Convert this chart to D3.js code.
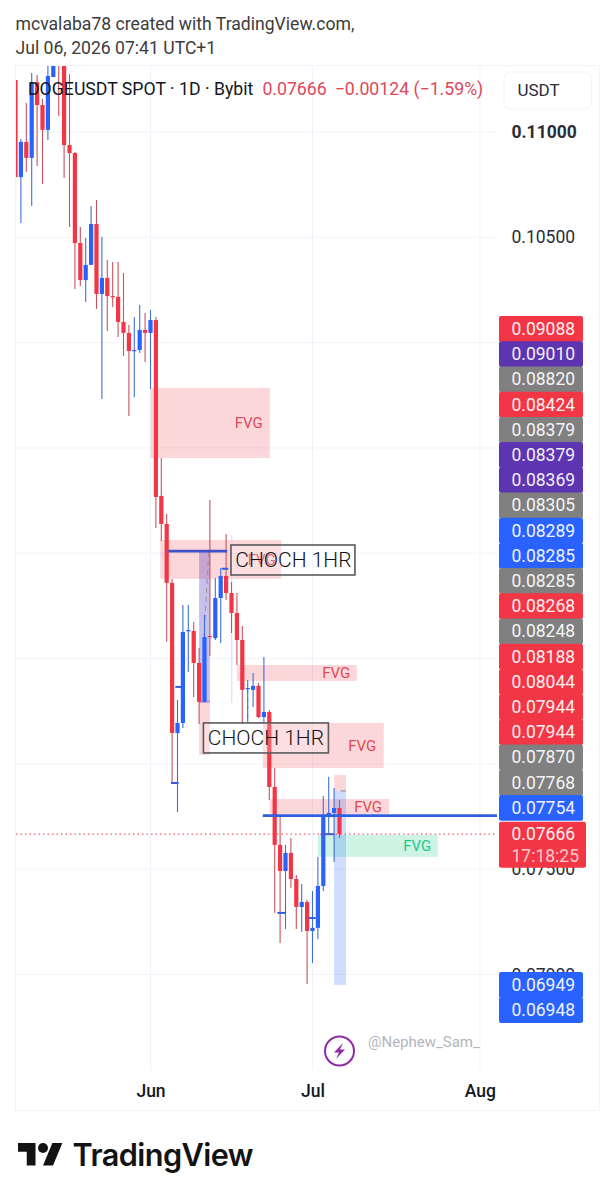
<!DOCTYPE html>
<html>
<head>
<meta charset="utf-8">
<script src="https://cdn.jsdelivr.net/npm/d3@7"></script>
<style>
  html, body { margin: 0; background: #fff; }
  text { font-family: Roboto, sans-serif; }
</style>
</head>
<body>
<div id="chart"></div>
<script>
// daily candles, first one is May 7
const firstDay = Date.UTC(2026, 4, 7);
const opens = [.11247,.10786,.10953,.10877,.11237,.11128,.1101,.11261,.11389,.11342,.10938,.109,.10473,.10297,.10369,.10563,.10231,.10307,.10221,.10217,.10098,.10046,.0996,.09965,.1006,.10046,.10107,.09272,.09139,.08859,.08146,.08194,.08631,.08631,.08479,.08294,.08607,.08597,.08787,.08892,.08811,.08716,.08588,.08355,.08351,.0837,.08222,.08246,.0789,.07615,.07491,.07577,.07453,.0732,.07344,.07206,.07221,.0742,.07748,.07767,.0779];
const highs = [.11247,.10967,.11138,.1128,.11271,.11157,.11342,.1145,.115,.114,.11275,.10905,.10549,.10497,.10649,.10677,.10501,.10392,.10383,.10383,.10331,.10084,.10122,.10179,.10141,.10155,.10122,.09452,.09186,.08878,.08303,.08754,.08754,.08673,.0855,.08707,.09253,.08882,.0893,.09091,.08863,.08811,.08654,.08398,.08431,.08384,.08507,.08256,.0798,.07748,.07615,.07648,.07472,.07429,.07354,.07396,.07558,.07847,.07938,.07885,.07828];
const lows = [.10677,.10568,.1081,.10649,.10839,.10753,.10962,.11261,.11076,.10782,.10549,.10255,.10269,.10193,.10369,.1016,.09732,.10055,.10169,.10027,.09936,.09652,.09742,.09951,.09908,.0978,.0912,.09058,.08579,.07909,.07771,.0817,.08436,.08317,.08189,.08294,.08512,.08588,.08574,.08778,.08621,.08469,.08189,.08199,.0827,.08218,.08194,.07828,.07292,.07149,.07216,.07411,.07216,.07202,.06955,.07054,.07168,.07396,.07672,.07534,.07648];
const closes = [.10786,.10953,.10877,.11233,.11128,.1101,.11266,.11389,.11342,.10938,.109,.10473,.10297,.10369,.10563,.10231,.10307,.10221,.10217,.10098,.10046,.0996,.09965,.1006,.10046,.10107,.09267,.09139,.08859,.08146,.08194,.08626,.08635,.08479,.08294,.08602,.08602,.08787,.08892,.08811,.08716,.08588,.08351,.0836,.0837,.08222,.08246,.0789,.07615,.07491,.07577,.07453,.0732,.07344,.07206,.07221,.0742,.07748,.07767,.0779,.07666];

// drawn zones: start/end as day number from May 7, top/bottom as price
const zoneStart = [25, 26.8, 34, 41, 45.8, 47.1, 59, 56, 59, 34];
const zoneEnd = [47.1, 49.2, 36, 63.2, 68.2, 69.2, 61.2, 78.2, 61.2, 36];
const zoneTop = [.09785, .09063, .08303, .08469, .08194, .07833, .07947, .07662, .07871, .09006];
const zoneBottom = [.09452, .08878, .08042, .08393, .0798, .07762, .07871, .07558, .0695, .08289];
const zoneKind = ["red", "red", "red", "red", "red", "red", "red", "green", "blue", "purple"];

const fvgDay = [43.2, 45.6, 59.4, 64.2, 65.3, 74.4];
const fvgPrice = [.09618, .08968, .08431, .08085, .07795, .0761];
const fvgKind = ["red", "red", "red", "red", "red", "green"];

const lineStart = [45.8, 28.3];
const lineEnd = [95, 39.2];
const linePrice = [.07754, .0901];

const tickStart = [28.8, 29.6, 48.5, 54.3, 56.5, 38.2, 60.2];
const tickEnd = [30.2, 31.2, 50, 55.6, 59, 39.4, 61.2];
const tickPrice = [.07909, .08365, .07292, .07268, .07666, .08926, .07871];

const tagValues = ["0.09088","0.09010","0.08820","0.08424","0.08379","0.08379","0.08369","0.08305","0.08289","0.08285","0.08285","0.08268","0.08248","0.08188","0.08044","0.07944","0.07944","0.07870","0.07768","0.07754"];
const tagKinds = ["red","purple","gray","red","gray","purple","purple","gray","blue","blue","gray","red","gray","red","red","red","red","gray","gray","blue"];
const lowTagValues = ["0.06949", "0.06948"];
const lastPrice = "0.07666";
const countdown = "17:18:25";

const priceTicks = [.07, .075, .08, .085, .09, .095, .1, .105, .11];
// the rest of the labels sit fully under the price tags
const priceLabels = [.07, .075, .105, .11];
const monthTicks = [new Date(Date.UTC(2026, 5, 1)), new Date(Date.UTC(2026, 6, 1)), new Date(Date.UTC(2026, 7, 1))];

const RED = "#f23645", BLUE = "#2962ff";
const tagColor = { red: RED, blue: BLUE, gray: "#808080", purple: "#5e35b1" };
const zoneColor = {
  red: "rgba(242,54,69,0.2)",
  green: "rgba(8,200,130,0.2)",
  blue: "rgba(41,98,255,0.22)",
  purple: "rgba(80,60,190,0.32)"
};

const day = (i) => new Date(firstDay + i * 864e5);
const x = d3.scaleUtc().domain([day(0), day(60)]).range([15.5, 339.5]);
const y = d3.scaleLinear().domain([0.11, 0.07]).range([132, 974.4]);

const svg = d3.select("#chart").append("svg")
  .attr("width", 614).attr("height", 1200).style("display", "block");

// header
svg.append("text").attr("x", 15.5).attr("y", 30).attr("font-size", 17.6).attr("fill", "#3c3c3c")
  .text("mcvalaba78 created with TradingView.com,");
svg.append("text").attr("x", 15.5).attr("y", 54).attr("font-size", 17.6).attr("fill", "#3c3c3c")
  .text("Jul 06, 2026 07:41 UTC+1");

// panel frame
svg.append("rect").attr("x", 15.5).attr("y", 65.5).attr("width", 584).attr("height", 1045)
  .attr("fill", "none").attr("stroke", "#f0f3fa");

svg.append("clipPath").attr("id", "pane").append("rect")
  .attr("x", 16).attr("y", 66).attr("width", 481).attr("height", 1004);
const pane = svg.append("g").attr("clip-path", "url(#pane)");

// grid
pane.append("g").selectAll("line").data(priceTicks).join("line")
  .attr("x1", 16).attr("x2", 497).attr("y1", (d) => y(d)).attr("y2", (d) => y(d))
  .attr("stroke", "#f0f3fa");
pane.append("g").selectAll("line").data(monthTicks).join("line")
  .attr("x1", (d) => x(d)).attr("x2", (d) => x(d)).attr("y1", 66).attr("y2", 1070)
  .attr("stroke", "#f0f3fa");

// zones
pane.append("g").selectAll("rect").data(zoneStart).join("rect")
  .attr("x", (d) => x(day(d)))
  .attr("width", (d, i) => x(day(zoneEnd[i])) - x(day(d)))
  .attr("y", (d, i) => y(zoneTop[i]))
  .attr("height", (d, i) => y(zoneBottom[i]) - y(zoneTop[i]))
  .attr("fill", (d, i) => zoneColor[zoneKind[i]]);

// faint helper strokes from the drawing
pane.append("line").attr("x1", x(day(40.05))).attr("x2", x(day(40.05)))
  .attr("y1", y(.09086)).attr("y2", y(.08289)).attr("stroke", "#cfdaf2");
pane.append("line").attr("x1", x(day(35.8))).attr("x2", x(day(34.9)))
  .attr("y1", y(.09006)).attr("y2", y(.08607))
  .attr("stroke", "#a98a96").attr("stroke-dasharray", "5 4");
pane.append("line").attr("x1", x(day(43))).attr("x2", x(day(43)))
  .attr("y1", y(.08351)).attr("y2", y(.08199))
  .attr("stroke", BLUE).attr("stroke-dasharray", "3 5");

// candles
const candles = pane.append("g").selectAll("g").data(opens).join("g")
  .attr("transform", (d, i) => `translate(${x(day(i))},0)`);
candles.append("line")
  .attr("y1", (d, i) => y(highs[i])).attr("y2", (d, i) => y(lows[i]))
  .attr("stroke", (d, i) => closes[i] < d ? "#c9525f" : "#3f6fd6").attr("stroke-width", 1.1);
candles.append("rect")
  .attr("x", -2.1).attr("width", 4.2)
  .attr("y", (d, i) => y(Math.max(d, closes[i])))
  .attr("height", (d, i) => Math.max(1.2, Math.abs(y(d) - y(closes[i]))))
  .attr("fill", (d, i) => closes[i] < d ? RED : BLUE);

// short blue ticks
pane.append("g").selectAll("line").data(tickStart).join("line")
  .attr("x1", (d) => x(day(d))).attr("x2", (d, i) => x(day(tickEnd[i])))
  .attr("y1", (d, i) => y(tickPrice[i])).attr("y2", (d, i) => y(tickPrice[i]))
  .attr("stroke", (d, i) => i === 6 ? "#888" : "#2f5fe0").attr("stroke-width", (d, i) => i === 6 ? 1 : 2);

// last price dotted line
pane.append("line").attr("x1", 16).attr("x2", 497)
  .attr("y1", y(+lastPrice)).attr("y2", y(+lastPrice))
  .attr("stroke", RED).attr("stroke-dasharray", "1.5 3");

// horizontal levels
pane.append("g").selectAll("line").data(lineStart).join("line")
  .attr("x1", (d) => x(day(d))).attr("x2", (d, i) => x(day(lineEnd[i])))
  .attr("y1", (d, i) => y(linePrice[i])).attr("y2", (d, i) => y(linePrice[i]))
  .attr("stroke", (d, i) => i === 0 ? "#2f5fe0" : "#3f51c5").attr("stroke-width", 2.8);

// FVG labels
pane.append("g").selectAll("text").data(fvgDay).join("text")
  .attr("x", (d) => x(day(d))).attr("y", (d, i) => y(fvgPrice[i]))
  .attr("text-anchor", "middle").attr("dominant-baseline", "central")
  .attr("font-size", 15)
  .attr("fill", (d, i) => fvgKind[i] === "green" ? "#1fc98a" : "#dd4a5c")
  .text("FVG");

// CHOCH boxes
const chochDay = [39.9, 34.8];
const chochTop = [.09039, .08194];
const choch = pane.append("g").selectAll("g").data(chochDay).join("g")
  .attr("transform", (d, i) => `translate(${x(day(d))},${y(chochTop[i])})`);
choch.append("rect").attr("width", (d, i) => i === 0 ? 124 : 125).attr("height", 30)
  .attr("fill", "rgba(255,255,255,0.2)").attr("stroke", "#5a5a5a").attr("stroke-width", 1.6);
choch.append("text").attr("x", 62.5).attr("y", 15.5)
  .attr("text-anchor", "middle").attr("dominant-baseline", "central")
  .attr("font-size", 21).attr("font-weight", 300).attr("fill", "#111")
  .text("CHOCH 1HR");

// title line
const title = svg.append("text").attr("x", 28).attr("y", 95).attr("font-size", 17.7);
title.append("tspan").attr("fill", "#131722").text("DOGEUSDT SPOT · 1D · Bybit");
title.append("tspan").attr("dx", 9).attr("fill", "#e0475a").text("0.07666");
title.append("tspan").attr("dx", 8).attr("fill", "#e0475a").text("−0.00124 (−1.59%)");

// price axis
const yAxis = svg.append("g").attr("transform", "translate(511.5,0)")
  .call(d3.axisRight(y).tickValues(priceLabels).tickSize(0).tickPadding(0).tickFormat(d3.format(".5f")));
yAxis.select(".domain").remove();
yAxis.selectAll("text").attr("font-size", 17.5).attr("font-family", "Roboto, sans-serif")
  .attr("fill", "#2a2e39")
  .attr("font-weight", (d) => d === 0.11 ? 700 : 400);

// time axis
const xAxis = svg.append("g").attr("transform", "translate(0,1085)")
  .call(d3.axisBottom(x).tickValues(monthTicks).tickSize(0).tickPadding(0).tickFormat(d3.utcFormat("%b")));
xAxis.select(".domain").remove();
xAxis.selectAll("text").attr("font-size", 17.5).attr("font-weight", 500)
  .attr("font-family", "Roboto, sans-serif").attr("fill", "#131722");

// unit button
svg.append("rect").attr("x", 504).attr("y", 72).attr("width", 87.5).attr("height", 37).attr("rx", 6)
  .attr("fill", "#fff").attr("stroke", "#f0f3fa");
svg.append("text").attr("x", 517.5).attr("y", 96).attr("font-size", 17).attr("fill", "#2a2e39").text("USDT");

// price tags, stacked the way the app pushes them apart
function drawTags(values, kinds, startY) {
  const g = svg.append("g").selectAll("g").data(values).join("g")
    .attr("transform", (d, i) => `translate(499,${startY + i * 25.2})`);
  g.append("rect").attr("y", -12.9).attr("width", 84).attr("height", 25.8).attr("rx", 2)
    .attr("fill", (d, i) => tagColor[kinds[i]]);
  g.append("text").attr("x", 12.5).attr("dominant-baseline", "central")
    .attr("font-size", 17.5).attr("fill", "#fff").attr("opacity", 0.92).text((d) => d);
}
drawTags(tagValues, tagKinds, 329);
drawTags(lowTagValues, ["blue", "blue"], 985);

const lastTag = svg.append("g").attr("transform", `translate(499,${y(+lastPrice) - 12.5})`);
lastTag.append("rect").attr("width", 87).attr("height", 46).attr("rx", 2).attr("fill", RED);
lastTag.append("text").attr("x", 12.5).attr("y", 12.5).attr("dominant-baseline", "central")
  .attr("font-size", 17.5).attr("fill", "#fff").attr("opacity", 0.92).text(lastPrice);
lastTag.append("text").attr("x", 12.5).attr("y", 34).attr("dominant-baseline", "central")
  .attr("font-size", 17.5).attr("fill", "#fff").attr("opacity", 0.72).text(countdown);

// watermark
svg.append("text").attr("x", 368).attr("y", 1047).attr("font-size", 15).attr("fill", "#b2b5be").text("@Nephew_Sam_");
svg.append("circle").attr("cx", 339.5).attr("cy", 1051).attr("r", 14.5)
  .attr("fill", "#fff").attr("stroke", "#8e2aa8").attr("stroke-width", 2);
svg.append("path").attr("d", "M343 1043 L334 1052.5 L339 1052.5 L336 1059 L345 1049.5 L340 1049.5 Z").attr("fill", "#8e2aa8");

// footer logo
svg.append("path").attr("transform", "translate(18,1138) scale(1.25)")
  .attr("d", "M14 22H7V11H0V4h14v18zM28 22h-8l7.5-18h8L28 22z").attr("fill", "#131313");
svg.append("circle").attr("cx", 18 + 20 * 1.25).attr("cy", 1138 + 8 * 1.25).attr("r", 5).attr("fill", "#131313");
svg.append("text").attr("x", 72.5).attr("y", 1166)
  .attr("font-size", 30.7).attr("font-weight", 600).attr("fill", "#131313").attr("letter-spacing", -0.6).style("font-family", "Inter, sans-serif").text("TradingView");
</script>
</body>
</html>
